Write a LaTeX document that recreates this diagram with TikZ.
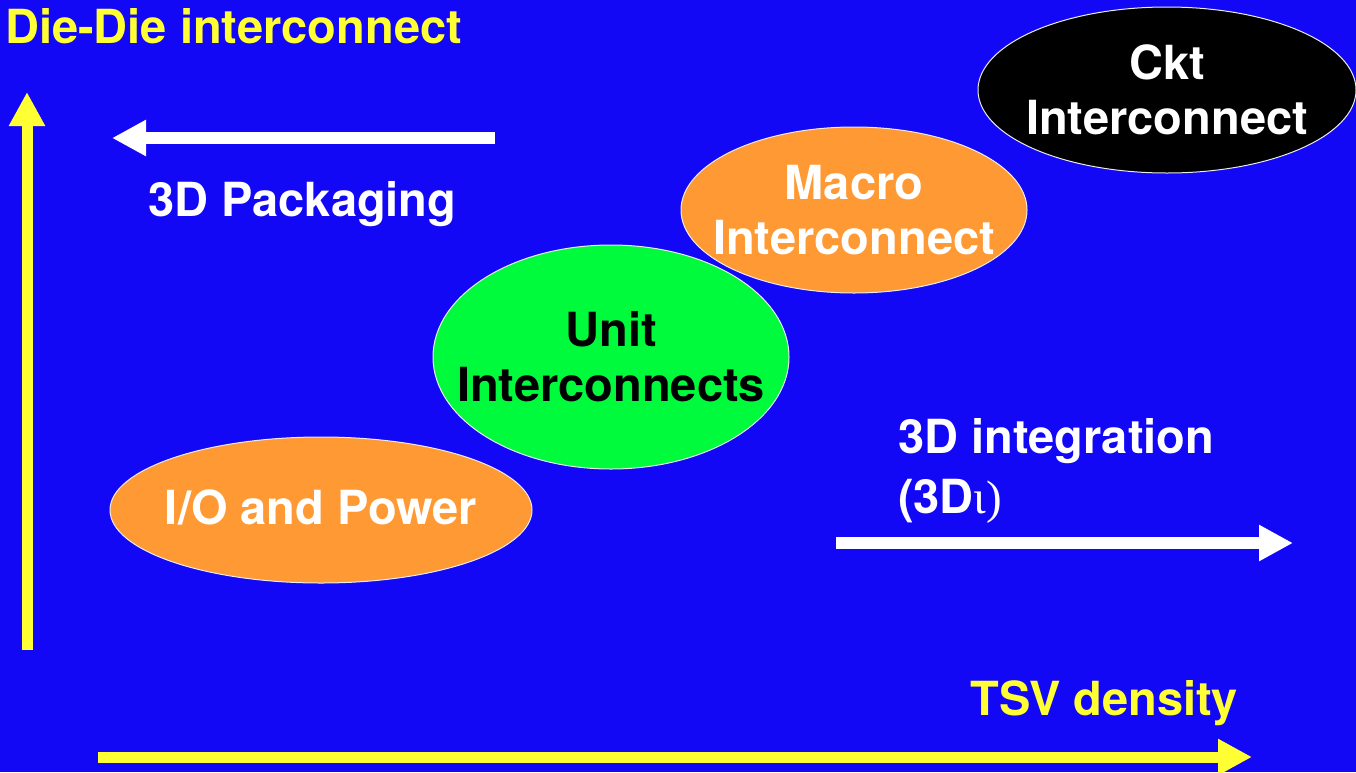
\documentclass[tikz,border=0pt]{standalone}
\usepackage{fontspec}
\setmainfont{TeX Gyre Heros}
\newfontfamily\greekserif{Liberation Serif}
\usetikzlibrary{arrows.meta,shapes.geometric}

\definecolor{slideblue}{RGB}{18,8,245}
\definecolor{bloborange}{RGB}{255,153,51}
\definecolor{blobgreen}{RGB}{0,250,60}
\definecolor{axisyellow}{RGB}{255,255,51}

\tikzset{
  big/.style={font=\fontsize{47}{55}\selectfont\bfseries},
  blob/.style={ellipse, draw=white!85!gray, line width=1pt, inner sep=0pt,
               outer sep=0pt},
  blobtext/.style={big, align=center, inner sep=0pt},
  axis/.style={draw=axisyellow, line width=11pt,
               -{Triangle[length=34pt,width=34pt]}},
  trend/.style={draw=white, line width=12pt,
                -{Triangle[length=34pt,width=34pt]}},
  caption/.style={big, anchor=base west, inner sep=0pt},
}

\begin{document}
\begin{tikzpicture}[x=1pt,y=-1pt]
  % page and background
  \useasboundingbox (0,0) rectangle (1356,772);
  \fill[slideblue] (0,0) rectangle (1356,772);

  % axes
  \coordinate (ybot) at (27,650);
  \coordinate (ytop) at (27,92);
  \coordinate (xl) at (98,757);
  \coordinate (xr) at (1252,757);
  \draw[axis] (ybot) -- (ytop);
  \draw[axis] (xl) -- (xr);

  \node[caption, text=axisyellow] (ylabel) at (5,43) {Die-Die interconnect};
  \node[caption, text=axisyellow] (xlabel) at (970,715) {TSV density};

  % trend arrows
  \coordinate (pkgR) at (495,138);
  \coordinate (pkgL) at (112,138);
  \draw[trend] (pkgR) -- (pkgL);
  \node[caption, text=white] (pkg) at (148,216) {3D Packaging};

  \coordinate (intL) at (836,543);
  \coordinate (intR) at (1293,543);
  \draw[trend] (intL) -- (intR);
  \node[caption, text=white] (int1) at (898,453) {3D integration};
  \node[caption, text=white] (int2) at (898,513) {(3D{\greekserif\mdseries ι)}};

  % interconnect levels: shapes
  \node[blob, fill=bloborange, minimum width=422pt, minimum height=146pt]
    (io) at (321,510) {};
  \node[blob, fill=blobgreen, minimum width=356pt, minimum height=224pt]
    (unit) at (611,357) {};
  \node[blob, fill=bloborange, minimum width=346pt, minimum height=166pt]
    (macro) at (854,210) {};
  \node[blob, fill=black, minimum width=378pt, minimum height=166pt]
    (ckt) at (1167,90) {};

  % interconnect levels: labels
  \node[blobtext, text=white, yshift=3pt] (iotext) at (io.center) {I/O and Power};
  \node[blobtext, text=black] (unittext) at (unit.center) {Unit\\Interconnects};
  \node[blobtext, text=white] (macrotext) at (macro.center) {Macro\\Interconnect};
  \node[blobtext, text=white] (ckttext) at (ckt.center) {Ckt\\Interconnect};
\end{tikzpicture}
\end{document}
